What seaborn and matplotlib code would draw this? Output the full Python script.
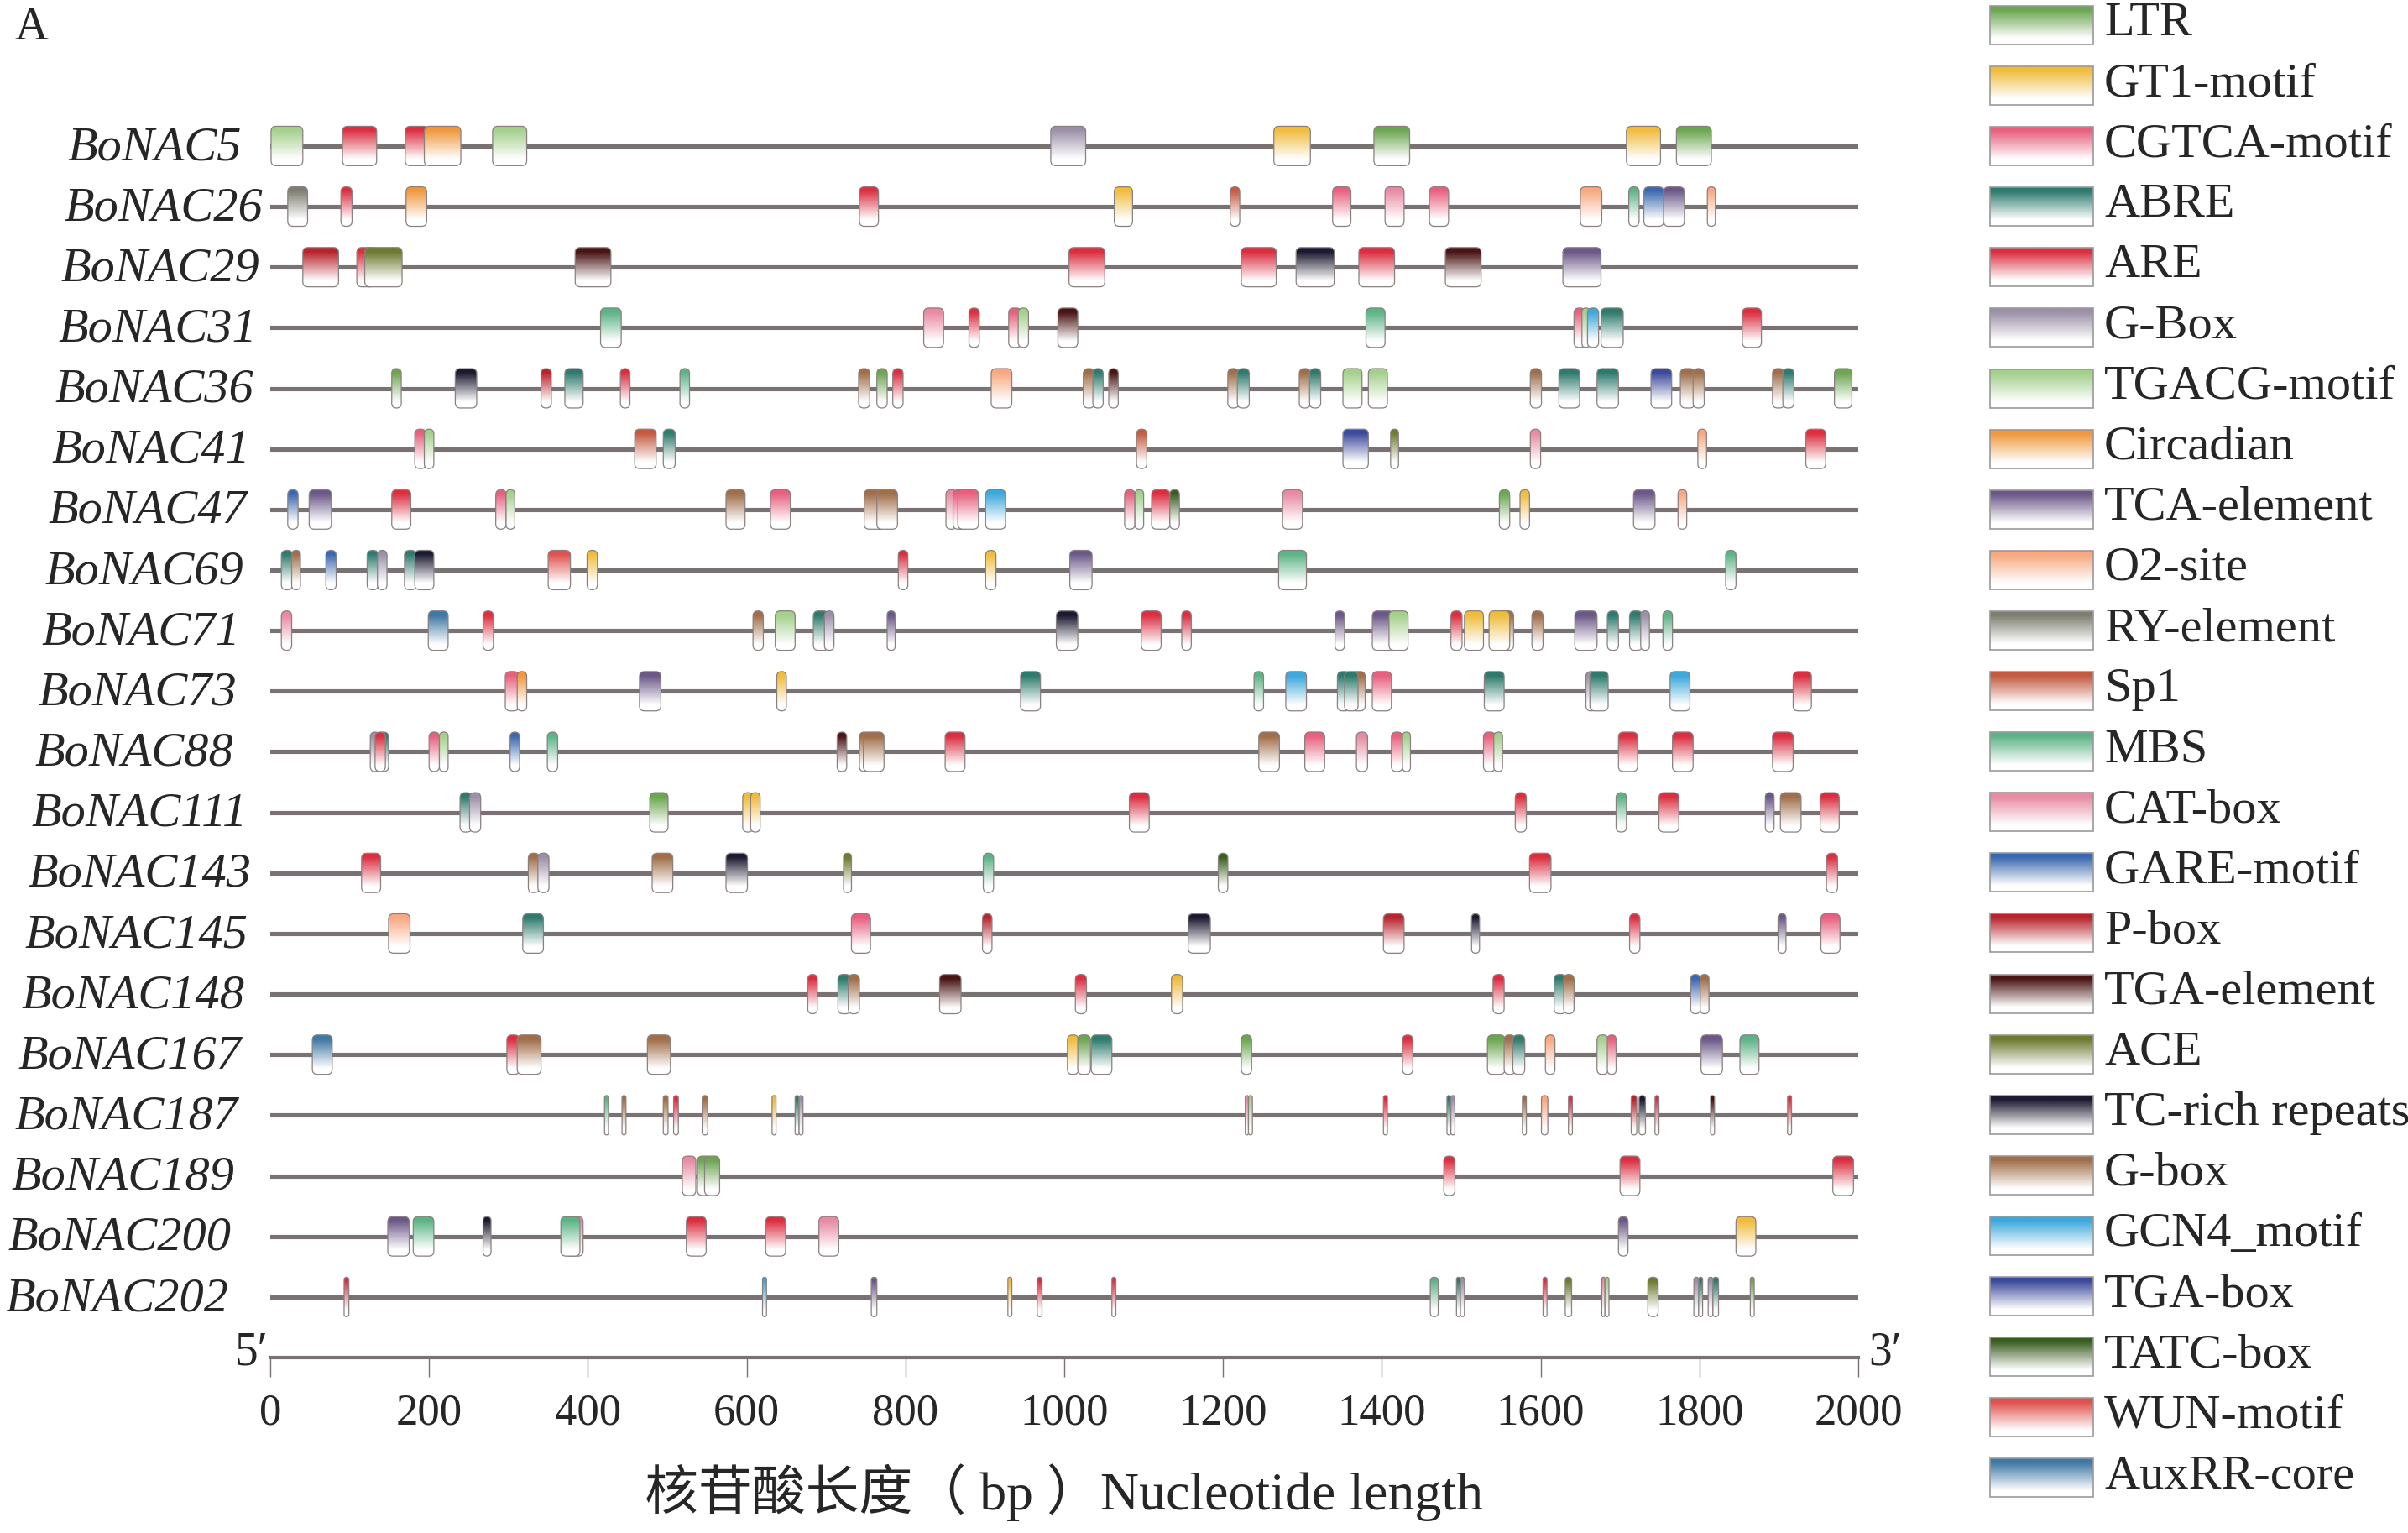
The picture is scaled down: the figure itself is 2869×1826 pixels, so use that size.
import numpy as np
import pandas as pd
import matplotlib
matplotlib.use("Agg")
import matplotlib.pyplot as plt
import seaborn as sns
from matplotlib.patches import FancyBboxPatch, Rectangle
from matplotlib.colors import to_rgb

# legend order of the cis-acting elements and their colours
element_names = ["LTR", "GT1-motif", "CGTCA-motif", "ABRE", "ARE", "G-Box", "TGACG-motif",
                 "Circadian", "TCA-element", "O2-site", "RY-element", "Sp1", "MBS", "CAT-box",
                 "GARE-motif", "P-box", "TGA-element", "ACE", "TC-rich repeats", "G-box",
                 "GCN4_motif", "TGA-box", "TATC-box", "WUN-motif", "AuxRR-core"]
element_colors = ["#6BA650", "#F0BC3C", "#E8607E", "#2E7B6E", "#DC2E40", "#9C90A8", "#A4D08C",
                  "#F0983C", "#6C5888", "#F8A880", "#7E7E70", "#C45A40", "#5CB486", "#E88AA2",
                  "#3A68B0", "#B8242C", "#4A1414", "#6E7A30", "#1C1A30", "#A06E48",
                  "#3CA8DC", "#3C4A9C", "#3A5E20", "#E0504C", "#3E78A4"]

genes = ["BoNAC5", "BoNAC26", "BoNAC29", "BoNAC31", "BoNAC36", "BoNAC41", "BoNAC47",
         "BoNAC69", "BoNAC71", "BoNAC73", "BoNAC88", "BoNAC111", "BoNAC143", "BoNAC145",
         "BoNAC148", "BoNAC167", "BoNAC187", "BoNAC189", "BoNAC200", "BoNAC202"]

# (element, start bp, end bp) for each promoter
BoNAC5 = [("TGACG-motif", 1, 41), ("ARE", 91, 134), ("ARE", 170, 199), ("Circadian", 194, 240),
          ("TGACG-motif", 280, 323), ("G-Box", 983, 1027), ("GT1-motif", 1264, 1310),
          ("LTR", 1390, 1435), ("GT1-motif", 1708, 1751), ("LTR", 1771, 1815)]
BoNAC26 = [("RY-element", 22, 47), ("ARE", 89, 103), ("Circadian", 171, 197), ("ARE", 742, 766),
           ("GT1-motif", 1063, 1086), ("Sp1", 1209, 1221), ("CGTCA-motif", 1338, 1361),
           ("CAT-box", 1404, 1428), ("CGTCA-motif", 1460, 1484), ("O2-site", 1650, 1677),
           ("MBS", 1711, 1724), ("GARE-motif", 1730, 1755), ("TCA-element", 1755, 1781),
           ("O2-site", 1810, 1820)]
BoNAC29 = [("P-box", 41, 86), ("ARE", 109, 132), ("ACE", 119, 166), ("TGA-element", 384, 429),
           ("ARE", 1006, 1051), ("ARE", 1223, 1267), ("TC-rich repeats", 1292, 1340),
           ("ARE", 1371, 1416), ("TGA-element", 1480, 1525), ("TCA-element", 1628, 1676)]
BoNAC31 = [("MBS", 416, 442), ("CAT-box", 823, 848), ("ARE", 880, 893), ("CGTCA-motif", 930, 946),
           ("TGACG-motif", 942, 955), ("TGA-element", 992, 1017), ("MBS", 1380, 1404),
           ("CGTCA-motif", 1642, 1656), ("TGACG-motif", 1652, 1662), ("GCN4_motif", 1659, 1673),
           ("ABRE", 1676, 1704), ("ARE", 1854, 1878)]
BoNAC36 = [("LTR", 153, 165), ("TC-rich repeats", 233, 260), ("P-box", 341, 354), ("ABRE", 371, 394),
           ("ARE", 441, 453), ("MBS", 516, 528), ("G-box", 741, 755), ("LTR", 764, 777),
           ("ARE", 784, 797), ("O2-site", 908, 934), ("G-box", 1024, 1038), ("ABRE", 1036, 1049),
           ("TGA-element", 1056, 1068), ("G-box", 1206, 1220), ("ABRE", 1218, 1233),
           ("G-box", 1296, 1310), ("ABRE", 1309, 1323), ("TGACG-motif", 1351, 1375),
           ("TGACG-motif", 1383, 1407), ("G-box", 1587, 1601), ("ABRE", 1623, 1649),
           ("ABRE", 1671, 1698), ("TGA-box", 1739, 1765), ("G-box", 1776, 1794),
           ("G-box", 1792, 1806), ("G-box", 1892, 1907), ("ABRE", 1905, 1919), ("LTR", 1970, 1992)]
BoNAC41 = [("CGTCA-motif", 182, 196), ("TGACG-motif", 194, 206), ("Sp1", 459, 486), ("ABRE", 495, 510),
           ("Sp1", 1091, 1104), ("TGA-box", 1351, 1383), ("ACE", 1411, 1421), ("CAT-box", 1587, 1600),
           ("O2-site", 1798, 1809), ("ARE", 1934, 1959)]
BoNAC47 = [("GARE-motif", 22, 35), ("TCA-element", 49, 77), ("ARE", 153, 177), ("CGTCA-motif", 284, 297),
           ("TGACG-motif", 297, 308), ("G-box", 574, 598), ("CGTCA-motif", 630, 655),
           ("G-box", 748, 774), ("G-box", 764, 790), ("CAT-box", 851, 865), ("CGTCA-motif", 860, 877),
           ("CGTCA-motif", 866, 892), ("GCN4_motif", 901, 926), ("CGTCA-motif", 1076, 1089),
           ("TGACG-motif", 1089, 1100), ("ARE", 1110, 1133), ("TATC-box", 1133, 1145),
           ("CAT-box", 1275, 1300), ("LTR", 1548, 1561), ("GT1-motif", 1574, 1586),
           ("TCA-element", 1717, 1744), ("O2-site", 1773, 1784)]
BoNAC69 = [("ABRE", 14, 28), ("G-box", 27, 38), ("GARE-motif", 70, 83), ("ABRE", 122, 136),
           ("G-Box", 135, 147), ("ABRE", 169, 184), ("TC-rich repeats", 182, 206),
           ("WUN-motif", 350, 378), ("GT1-motif", 399, 412), ("ARE", 791, 803), ("GT1-motif", 901, 914),
           ("TCA-element", 1007, 1035), ("MBS", 1270, 1305), ("MBS", 1833, 1846)]
BoNAC71 = [("CAT-box", 14, 27), ("AuxRR-core", 199, 224), ("ARE", 268, 281), ("G-box", 608, 621),
           ("TGACG-motif", 636, 661), ("ABRE", 684, 703), ("G-Box", 698, 710), ("TCA-element", 777, 787),
           ("TC-rich repeats", 990, 1017), ("ARE", 1097, 1122), ("ARE", 1148, 1160),
           ("TCA-element", 1341, 1353), ("TCA-element", 1388, 1415), ("TGACG-motif", 1409, 1433),
           ("ARE", 1487, 1501), ("GT1-motif", 1504, 1528), ("G-box", 1545, 1566),
           ("GT1-motif", 1535, 1561), ("G-box", 1589, 1603), ("TCA-element", 1643, 1671),
           ("ABRE", 1684, 1698), ("ABRE", 1712, 1728), ("G-Box", 1726, 1737), ("MBS", 1754, 1766)]
BoNAC73 = [("CGTCA-motif", 296, 313), ("Circadian", 311, 323), ("TCA-element", 465, 492),
           ("GT1-motif", 638, 650), ("ABRE", 945, 970), ("MBS", 1239, 1251), ("GCN4_motif", 1279, 1305),
           ("G-box", 1362, 1379), ("ABRE", 1344, 1360), ("ABRE", 1353, 1370),
           ("CGTCA-motif", 1388, 1412), ("ABRE", 1529, 1554), ("G-Box", 1657, 1670),
           ("ABRE", 1662, 1685), ("GCN4_motif", 1763, 1788), ("ARE", 1918, 1941)]
BoNAC88 = [("G-Box", 126, 138), ("ABRE", 136, 149), ("ARE", 132, 145), ("CGTCA-motif", 200, 213),
           ("TGACG-motif", 213, 224), ("GARE-motif", 302, 314), ("MBS", 349, 362),
           ("TGA-element", 714, 726), ("G-box", 742, 755), ("G-box", 747, 773), ("ARE", 850, 875),
           ("G-box", 1245, 1271), ("CGTCA-motif", 1303, 1328), ("CAT-box", 1368, 1382),
           ("CGTCA-motif", 1412, 1426), ("TGACG-motif", 1426, 1436), ("CGTCA-motif", 1528, 1543),
           ("TGACG-motif", 1541, 1552), ("ARE", 1698, 1722), ("ARE", 1766, 1792), ("ARE", 1892, 1918)]
BoNAC111 = [("ABRE", 239, 254), ("G-Box", 251, 265), ("LTR", 478, 501), ("GT1-motif", 595, 608),
            ("GT1-motif", 605, 617), ("ARE", 1082, 1107), ("ARE", 1568, 1582), ("MBS", 1695, 1708),
            ("ARE", 1749, 1774), ("TCA-element", 1883, 1894), ("G-box", 1902, 1928), ("ARE", 1952, 1976)]
BoNAC143 = [("ARE", 115, 139), ("G-box", 325, 339), ("G-Box", 337, 351), ("G-box", 481, 507),
            ("TC-rich repeats", 574, 601), ("ACE", 722, 732), ("MBS", 898, 911),
            ("TATC-box", 1194, 1206), ("ARE", 1586, 1613), ("ARE", 1960, 1974)]
BoNAC145 = [("O2-site", 149, 176), ("ABRE", 318, 344), ("CGTCA-motif", 732, 756), ("P-box", 897, 909),
            ("TC-rich repeats", 1156, 1184), ("P-box", 1402, 1428), ("TC-rich repeats", 1513, 1523),
            ("ARE", 1712, 1725), ("TCA-element", 1899, 1909), ("CGTCA-motif", 1953, 1977)]
BoNAC148 = [("ARE", 677, 689), ("ABRE", 715, 731), ("G-box", 728, 742), ("TGA-element", 843, 870),
            ("ARE", 1014, 1028), ("GT1-motif", 1135, 1149), ("ARE", 1540, 1554), ("ABRE", 1617, 1632),
            ("G-box", 1629, 1642), ("GARE-motif", 1789, 1801), ("G-box", 1801, 1812)]
BoNAC167 = [("AuxRR-core", 53, 78), ("ARE", 298, 314), ("G-box", 311, 341), ("G-box", 475, 504),
            ("GT1-motif", 1004, 1018), ("LTR", 1017, 1033), ("ABRE", 1034, 1060), ("LTR", 1223, 1236),
            ("ARE", 1426, 1439), ("LTR", 1533, 1555), ("G-box", 1554, 1568), ("ABRE", 1565, 1580),
            ("O2-site", 1606, 1618), ("TGACG-motif", 1671, 1685), ("CGTCA-motif", 1684, 1695),
            ("TCA-element", 1802, 1829), ("MBS", 1851, 1875)]
BoNAC187 = [("MBS", 421, 426), ("G-box", 443, 448), ("G-box", 495, 501), ("ARE", 508, 514),
            ("G-box", 544, 551), ("GT1-motif", 632, 637), ("ABRE", 661, 666), ("G-Box", 666, 671),
            ("CAT-box", 1228, 1232), ("TGACG-motif", 1232, 1237), ("ARE", 1402, 1407),
            ("ABRE", 1482, 1487), ("G-Box", 1487, 1492), ("G-box", 1577, 1582), ("O2-site", 1601, 1609),
            ("ARE", 1635, 1640), ("P-box", 1714, 1721), ("TC-rich repeats", 1724, 1732),
            ("ARE", 1744, 1749), ("TGA-element", 1814, 1819), ("ARE", 1911, 1916)]
BoNAC189 = [("CAT-box", 519, 536), ("LTR", 538, 555), ("LTR", 547, 566), ("ARE", 1478, 1492),
            ("ARE", 1700, 1725), ("ARE", 1968, 1994)]
BoNAC200 = [("TCA-element", 148, 175), ("MBS", 180, 206), ("TC-rich repeats", 268, 278),
            ("CAT-box", 370, 394), ("MBS", 366, 390), ("ARE", 524, 549), ("ARE", 624, 649),
            ("CAT-box", 691, 716), ("TCA-element", 1698, 1710), ("GT1-motif", 1846, 1871)]
BoNAC202 = [("ARE", 93, 99), ("GCN4_motif", 620, 625), ("TCA-element", 757, 764), ("GT1-motif", 929, 934),
            ("ARE", 966, 972), ("ARE", 1060, 1065), ("MBS", 1461, 1471), ("ABRE", 1494, 1499),
            ("G-Box", 1499, 1504), ("ARE", 1603, 1608), ("ACE", 1631, 1639), ("CAT-box", 1677, 1681),
            ("TGACG-motif", 1681, 1686), ("ACE", 1735, 1748), ("G-Box", 1793, 1799),
            ("ABRE", 1799, 1804), ("G-Box", 1811, 1817), ("ABRE", 1817, 1824), ("LTR", 1864, 1869)]

gene_elements = [BoNAC5, BoNAC26, BoNAC29, BoNAC31, BoNAC36, BoNAC41, BoNAC47, BoNAC69, BoNAC71,
                 BoNAC73, BoNAC88, BoNAC111, BoNAC143, BoNAC145, BoNAC148, BoNAC167, BoNAC187,
                 BoNAC189, BoNAC200, BoNAC202]
seq_length = 2000

# long table of all elements
records = []
for i, (g, elems) in enumerate(zip(genes, gene_elements)):
    for name, s, e in elems:
        records.append({"gene": g, "row": i, "element": name, "start": s, "end": e})
df = pd.DataFrame(records)
color_map = dict(zip(element_names, element_colors))

sns.set_theme(style="white")
plt.rcParams["font.family"] = ["Liberation Serif", "DejaVu Serif"]

W, H = 2869, 1826
fig = plt.figure(figsize=(W / 100, H / 100), dpi=100)
ax = fig.add_axes([322 / W, 1 - 1617 / H, 1892 / W, 1617 / H])

line_gray = "#7a7272"

# backbone of every promoter
line_df = pd.DataFrame({"gene": np.repeat(genes, 2),
                        "pos": [0, seq_length] * len(genes),
                        "row": np.repeat(np.arange(len(genes)), 2)})
sns.lineplot(data=line_df, x="pos", y="row", units="gene", estimator=None,
             color=line_gray, lw=3.7, ax=ax, zorder=1)


def gradient(color, n=80):
    t = np.linspace(0, 1, n)[:, None]
    w = np.clip((0.84 - t) / 0.74, 0, 1)[..., None]
    c = np.array(to_rgb(color))[None, None, :]
    return w * c + (1 - w)


grad = {name: gradient(c) for name, c in color_map.items()}

px_per_bp = 1892 / seq_length
px_per_row = 72.2
half_h = 0.325
m_aspect = px_per_bp / px_per_row

for k, rec in enumerate(df.itertuples()):
    w = rec.end - rec.start
    rx = min(6 / px_per_bp, w / 2)
    z = 2 + k * 0.01
    patch = FancyBboxPatch((rec.start, rec.row - half_h), w, 2 * half_h,
                           boxstyle=f"round,pad=0,rounding_size={rx}",
                           mutation_aspect=m_aspect, fc="none", ec="#8a8080", lw=0.9,
                           zorder=z + 0.005)
    ax.add_patch(patch)
    im = ax.imshow(grad[rec.element], extent=(rec.start, rec.end, rec.row + half_h, rec.row - half_h),
                   origin="upper", aspect="auto", interpolation="bilinear", zorder=z)
    im.set_clip_path(patch)

# gene names (slanted column, as in the figure)
for i, g in enumerate(genes):
    ax.text(-255 - 4.16 * i, i + 0.03, g, fontsize=42, style="italic", ha="left", va="center")

ax.text(-3, 19.93, "5′", fontsize=40, ha="right", va="center")
ax.text(2013, 19.93, "3′", fontsize=40, ha="left", va="center")

ax.set_xlim(0, seq_length)
ax.set_ylim(20, -174 / px_per_row)
ax.set_xticks(range(0, seq_length + 1, 200))
ax.set_yticks([])
for s in ["top", "left", "right"]:
    ax.spines[s].set_visible(False)
ax.spines["bottom"].set_color(line_gray)
ax.spines["bottom"].set_linewidth(3)
ax.tick_params(axis="x", direction="out", bottom=True, length=16.5, width=1, color=line_gray,
               pad=14, labelsize=38)
ax.set_ylabel("")
ax.set_xlabel("核苷酸长度（ bp ）Nucleotide length", fontsize=46, labelpad=26,
              family=["Liberation Serif", "Noto Sans CJK SC"])

# legend on the right
lax = fig.add_axes([0, 0, 1, 1])
lax.set_xlim(0, W)
lax.set_ylim(H, 0)
lax.axis("off")
for i, (name, c) in enumerate(zip(element_names, element_colors)):
    yc = 30 + 72.1 * i
    im = lax.imshow(grad[name], extent=(2371, 2494, yc + 23, yc - 23), origin="upper",
                    aspect="auto", interpolation="bilinear")
    lax.add_patch(Rectangle((2371, yc - 23), 123, 46, fc="none", ec="#999999", lw=1.2))
    lax.text(2507, yc - 2, name, fontsize=42, ha="left", va="center")
lax.set_xlim(0, W)
lax.set_ylim(H, 0)

fig.text(37 / W, 1 - 33 / H, "A", fontsize=40, ha="center", va="center")

fig.savefig("out.png", dpi=100)
